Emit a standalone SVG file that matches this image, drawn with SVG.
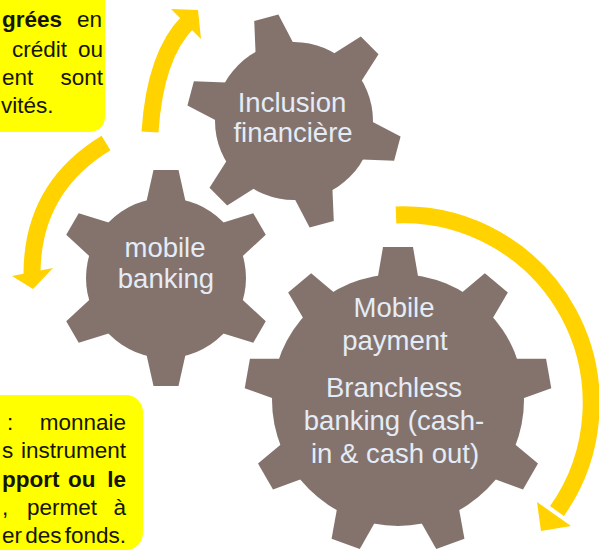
<svg xmlns="http://www.w3.org/2000/svg" width="599" height="553" viewBox="0 0 599 553">
<defs>
<style>
.box{fill:#FFFF00}
.gear{fill:#84736D}
.gt{font-family:"Liberation Sans",Arial,sans-serif;font-size:27.5px;fill:#E4ECF7;text-anchor:middle}
.bt{font-family:"Liberation Sans",Arial,sans-serif;font-size:22.5px;fill:#151500}
.b{font-weight:bold}
.e{text-anchor:end}
.arrow{fill:none;stroke:#FFD200;stroke-width:17}
.head{fill:#FFD200}
</style>
<polygon id="t1" points="-21,-69 -12.5,-107 12.5,-107 21,-69"/>
<polygon id="t2" points="-21,-70 -12.5,-108 12.5,-108 21,-70"/>
<polygon id="t3" points="-21,-118 -15,-153 15,-153 21,-118"/>
</defs>
<rect width="599" height="553" fill="#FFFFFF"/>

<g id="box-top">
<rect class="box" x="-20" y="-20" width="125" height="152" rx="15"/>
<text class="bt b" x="2" y="27">grées</text>
<text class="bt e" x="102" y="27">en</text>
<text class="bt" x="12" y="57">crédit</text>
<text class="bt e" x="103" y="57">ou</text>
<text class="bt" x="2" y="85">ent</text>
<text class="bt e" x="103" y="85">sont</text>
<text class="bt" x="1" y="113">vités.</text>
</g>

<g id="box-bottom">
<rect class="box" x="-20" y="395" width="163" height="155" rx="17"/>
<text class="bt" x="7" y="430">:</text>
<text class="bt e" x="126" y="430">monnaie</text>
<text class="bt" x="2" y="458">s</text>
<text class="bt e" x="126" y="458">instrument</text>
<text class="bt b" x="2" y="487">pport</text>
<text class="bt b" x="68" y="487">ou</text>
<text class="bt b e" x="126" y="487">le</text>
<text class="bt" x="2" y="515">,</text>
<text class="bt" x="27" y="515">permet</text>
<text class="bt e" x="126" y="515">à</text>
<text class="bt" x="2" y="543" style="word-spacing:-3px">er des fonds.</text>
</g>

<g id="gear-inclusion" class="gear">
<circle cx="294" cy="121" r="79"/>
<g transform="translate(294,121)">
<use href="#t1" transform="rotate(-15)"/>
<use href="#t1" transform="rotate(45)"/>
<use href="#t1" transform="rotate(105)"/>
<use href="#t1" transform="rotate(165)"/>
<use href="#t1" transform="rotate(225)"/>
<use href="#t1" transform="rotate(285)"/>
</g>
<text class="gt" x="292" y="112">Inclusion</text>
<text class="gt" x="293" y="142">financière</text>
</g>

<g id="gear-mobile-banking" class="gear">
<circle cx="166" cy="278" r="80"/>
<g transform="translate(166,278)">
<use href="#t2"/>
<use href="#t2" transform="rotate(60)"/>
<use href="#t2" transform="rotate(120)"/>
<use href="#t2" transform="rotate(180)"/>
<use href="#t2" transform="rotate(240)"/>
<use href="#t2" transform="rotate(300)"/>
</g>
<text class="gt" x="165" y="257">mobile</text>
<text class="gt" x="166" y="288">banking</text>
</g>

<g id="gear-mobile-payment" class="gear">
<circle cx="398" cy="400" r="126"/>
<g transform="translate(398,400)">
<use href="#t3"/>
<use href="#t3" transform="rotate(40)"/>
<use href="#t3" transform="rotate(80)"/>
<use href="#t3" transform="rotate(120)"/>
<use href="#t3" transform="rotate(160)"/>
<use href="#t3" transform="rotate(200)"/>
<use href="#t3" transform="rotate(240)"/>
<use href="#t3" transform="rotate(280)"/>
<use href="#t3" transform="rotate(320)"/>
</g>
<text class="gt" x="394" y="317">Mobile</text>
<text class="gt" x="395" y="350">payment</text>
<text class="gt" x="394" y="397">Branchless</text>
<text class="gt" x="394" y="430">banking (cash-</text>
<text class="gt" x="395" y="463">in &amp; cash out)</text>
</g>

<g id="connectors">
<path class="arrow" d="M150,132 Q155,55 188,22"/>
<polygon class="head" points="171,9 201,39 198,10"/>
<path class="arrow" d="M106,143 Q32,188 32,274"/>
<polygon class="head" points="12,276 53,268 33,289"/>
<path class="arrow" d="M396,215 A188,188 0 0 1 557,511"/>
<polygon class="head" points="537,502 571,526 541,531"/>
</g>
</svg>
